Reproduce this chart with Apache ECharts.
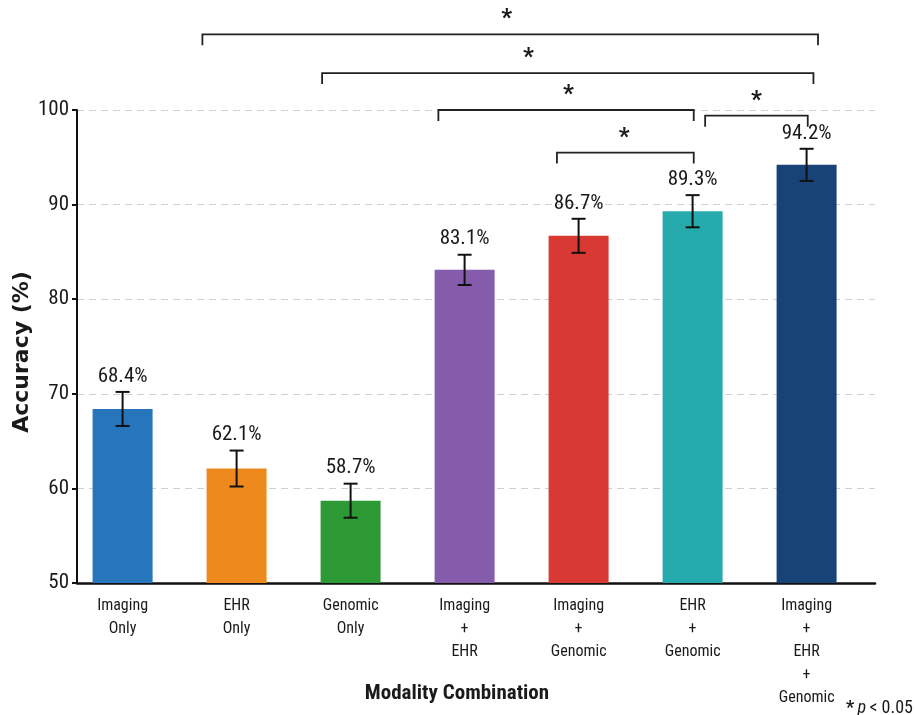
<!DOCTYPE html>
<html>
<head>
<meta charset="utf-8">
<script src="https://cdn.jsdelivr.net/npm/echarts@6/dist/echarts.min.js"></script>
<style>
  html, body { margin: 0; padding: 0; background: #ffffff; }
  #chart { width: 916px; height: 715px; }
</style>
</head>
<body>
<div id="chart"></div>
<script>
// Accuracy of each modality combination (mean ± error)
const categories = [
  'Imaging\nOnly',
  'EHR\nOnly',
  'Genomic\nOnly',
  'Imaging\n+\nEHR',
  'Imaging\n+\nGenomic',
  'EHR\n+\nGenomic',
  'Imaging\n+\nEHR\n+\nGenomic'
];
const accuracy = [68.4, 62.1, 58.7, 83.1, 86.7, 89.3, 94.2];
const errorBars = [1.8, 1.9, 1.8, 1.6, 1.8, 1.7, 1.7];
const barColors = ['#2775BA', '#EE8A1D', '#2E9A35', '#855CAB', '#D83A33', '#27AAAD', '#184376'];
const yMin = 50, yMax = 100, yStep = 10;
const significanceMark = '*';
const noteText = 'p < 0.05';

// Significance brackets: [left end, right end, height, star position] in axis units
const brackets = [
  [0.70, 6.10, 108.0, 3.37],
  [1.75, 6.06, 103.9, 3.56],
  [2.77, 5.01, 100.0, 3.91],
  [5.11, 6.01, 99.4, 5.56],
  [3.81, 5.01, 95.5, 4.40]
];

const NARROW = "'Liberation Sans Narrow', 'Roboto Condensed', 'Noto Sans Condensed', 'Open Sans Condensed', 'DejaVu Sans Condensed', 'Arial Narrow', sans-serif";
const INK = '#1a1a1a';

const chart = echarts.init(document.getElementById('chart'), null, { renderer: 'canvas' });

const option = {
  animation: false,
  backgroundColor: '#ffffff',
  grid: { left: 77, right: 41, top: 110, bottom: 132, containLabel: false },
  xAxis: {
    type: 'value',
    min: -0.4,
    max: 6.6,
    axisLine: { show: true, onZero: false, lineStyle: { color: '#111', width: 2.5 } },
    axisTick: { show: false },
    axisLabel: { show: false },
    splitLine: { show: false }
  },
  yAxis: {
    type: 'value',
    min: yMin,
    max: yMax,
    interval: yStep,
    axisLine: { show: true, onZero: false, lineStyle: { color: '#111', width: 2 } },
    axisTick: { show: true, length: 5, lineStyle: { color: '#111', width: 2 } },
    axisLabel: { color: INK, fontFamily: NARROW, fontSize: 21, margin: 8 },
    splitLine: { show: true, lineStyle: { color: '#d0d0d0', type: [7, 5], width: 1.2 } }
  },
  series: [
    {
      type: 'bar',
      barWidth: 60,
      clip: true,
      data: accuracy.map((v, i) => ({ value: [i, v], itemStyle: { color: barColors[i] } })),
      z: 2
    },
    {
      // error bars with value labels above them
      type: 'custom',
      z: 5,
      data: accuracy.map((v, i) => [i, v, errorBars[i]]),
      encode: { x: 0, y: 1 },
      renderItem: function (params, api) {
        const i = api.value(0), v = api.value(1), e = api.value(2);
        const top = api.coord([i, v + e]);
        const bot = api.coord([i, v - e]);
        const cap = 7;
        const ls = { stroke: '#111', lineWidth: 2 };
        return {
          type: 'group',
          children: [
            { type: 'line', shape: { x1: top[0], y1: top[1], x2: bot[0], y2: bot[1] }, style: ls },
            { type: 'line', shape: { x1: top[0] - cap, y1: top[1], x2: top[0] + cap, y2: top[1] }, style: ls },
            { type: 'line', shape: { x1: bot[0] - cap, y1: bot[1], x2: bot[0] + cap, y2: bot[1] }, style: ls },
            {
              type: 'text',
              x: top[0], y: top[1] - 5,
              style: {
                text: v.toFixed(1) + '%',
                font: '21px ' + NARROW,
                fill: INK,
                align: 'center',
                verticalAlign: 'bottom'
              }
            }
          ]
        };
      }
    },
    {
      // category labels under the axis
      type: 'custom',
      z: 5,
      data: categories.map((c, i) => [i, yMin]),
      encode: { x: 0, y: 1 },
      renderItem: function (params, api) {
        const p = api.coord([api.value(0), yMin]);
        return {
          type: 'text',
          x: p[0], y: p[1] + 11,
          style: {
            text: categories[params.dataIndex],
            font: '16px ' + NARROW,
            fill: INK,
            align: 'center',
            verticalAlign: 'top',
            lineHeight: 23
          }
        };
      }
    },
    {
      // significance brackets
      type: 'custom',
      z: 6,
      data: brackets,
      encode: { x: 0, y: 2 },
      renderItem: function (params, api) {
        const a = api.coord([api.value(0), api.value(2)]);
        const b = api.coord([api.value(1), api.value(2)]);
        const s = api.coord([api.value(3), api.value(2)]);
        const drop = 11;
        return {
          type: 'group',
          children: [
            {
              type: 'polyline',
              shape: { points: [[a[0], a[1] + drop], [a[0], a[1]], [b[0], b[1]], [b[0], b[1] + drop]] },
              style: { stroke: '#222', lineWidth: 1.8, fill: null }
            },
            {
              type: 'text',
              x: s[0], y: s[1] - 3,
              style: {
                text: significanceMark,
                font: 'bold 24px ' + NARROW,
                fill: INK,
                align: 'center',
                verticalAlign: 'bottom'
              }
            }
          ]
        };
      }
    }
  ],
  graphic: [
    {
      type: 'text',
      x: 22, y: 352,
      rotation: Math.PI / 2,
      style: {
        text: 'Accuracy (%)',
        font: 'bold 22px "DejaVu Sans", sans-serif',
        fill: INK,
        align: 'center',
        verticalAlign: 'middle'
      }
    },
    {
      type: 'text',
      x: 457, y: 694,
      style: {
        text: 'Modality Combination',
        font: 'bold 21px ' + NARROW,
        fill: INK,
        align: 'center',
        verticalAlign: 'middle'
      }
    },
    {
      type: 'text',
      x: 913, y: 708,
      style: {
        text: '{s|' + significanceMark + '} {p|p} {t|' + noteText.slice(2) + '}',
        align: 'right',
        verticalAlign: 'middle',
        rich: {
          s: { font: 'bold 18px ' + NARROW, fill: INK },
          p: { font: 'italic 18px ' + NARROW, fill: INK },
          t: { font: '18px ' + NARROW, fill: INK }
        }
      }
    }
  ]
};

chart.setOption(option);
</script>
</body>
</html>
